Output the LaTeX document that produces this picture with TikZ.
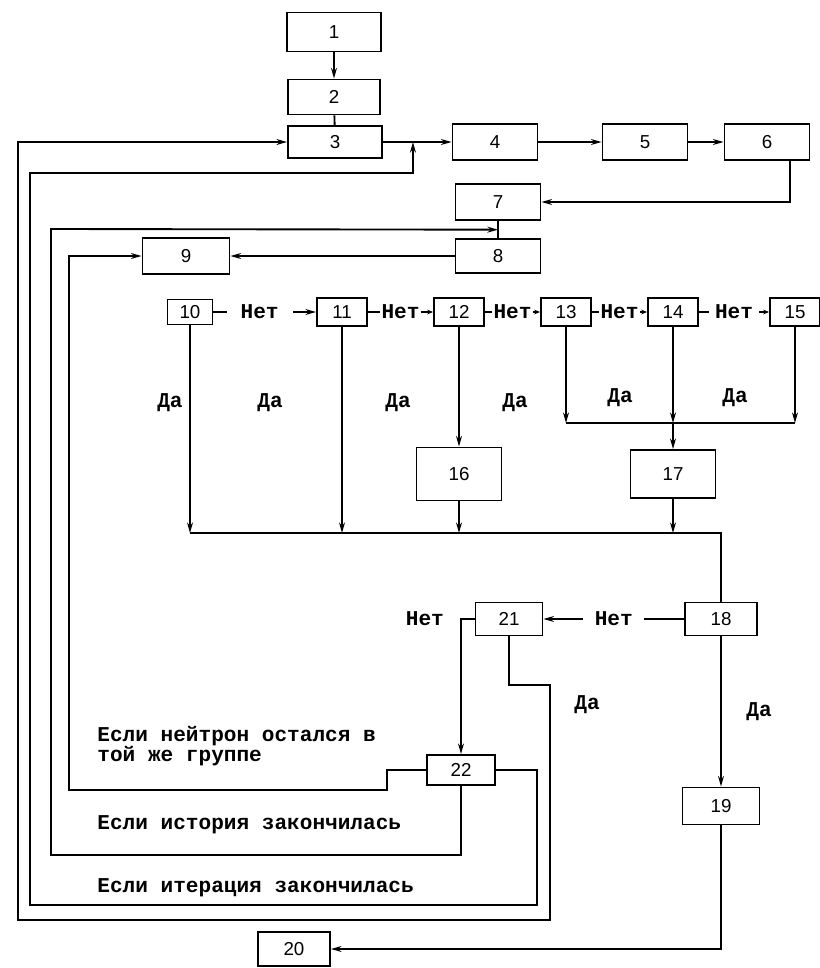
\documentclass[tikz,border=0pt]{standalone}
\usepackage{fontspec}
\newfontfamily\twfont{Liberation Mono}
\newfontfamily\numfont{Liberation Sans}
\usetikzlibrary{arrows.meta,positioning}

\begin{document}
\begin{tikzpicture}[
  x=0.03cm, y=-0.03cm,
  blk/.style={rectangle, draw, line width=1.6pt, minimum width=2.55cm, minimum height=1.1cm, inner sep=0pt, font=\numfont\fontsize{16}{16}\selectfont},
  test/.style={blk, minimum width=1.5cm, minimum height=0.84cm},
  lbl/.style={font=\twfont\bfseries\fontsize{18}{15.5}\selectfont, inner sep=1pt, align=left},
  wire/.style={line width=1.6pt},
  flow/.style={wire, -{Stealth[length=9pt,width=5pt]}},
  tick/.style={wire, -{Stealth[length=5pt,width=4pt]}}
]
\useasboundingbox (0,0) rectangle (820,968);

% Start chain
\node[blk, minimum width=2.82cm, minimum height=1.17cm] (b1) at (334,32) {1};
\node[blk, minimum width=2.76cm, minimum height=1.05cm] (b2) at (334,97) {2};
\node[blk, minimum width=2.82cm, minimum height=0.96cm] (b3) at (335,142) {3};
\node[blk] (b4) at (495,142) {4};
\node[blk] (b5) at (645,142) {5};
\node[blk] (b6) at (767,142) {6};
\node[blk] (b7) at (498,202) {7};
\node[blk, minimum height=1.02cm] (b8) at (498,256) {8};
\node[blk, minimum width=2.61cm] (b9) at (186,256) {9};

% Tests 10-15
\node[test, minimum width=1.35cm, minimum height=0.75cm] (b10) at (190,312) {10};
\node[test] (b11) at (342,312) {11};
\node[test] (b12) at (459,312) {12};
\node[test] (b13) at (566,312) {13};
\node[test] (b14) at (673,312) {14};
\node[test] (b15) at (795,312) {15};

\node[blk, minimum height=1.59cm] (b16) at (459,474) {16};
\node[blk, minimum height=1.44cm] (b17) at (673,474) {17};

% Lower part
\node[blk, minimum width=2.16cm, minimum height=0.99cm] (b18) at (721,619) {18};
\node[blk, minimum width=2.01cm, minimum height=0.99cm] (b21) at (509,619) {21};
\node[blk, minimum width=2.04cm, minimum height=0.9cm] (b22) at (461,770) {22};
\node[blk, minimum width=2.31cm, minimum height=1.11cm] (b19) at (721,806) {19};
\node[blk, minimum width=2.16cm, minimum height=1.02cm] (b20) at (294,949) {20};

% Junction points
\path (b3.east) ++(30,0) coordinate (j34);
\path (b7.south) -- coordinate (j78) (b8.north);
\coordinate (bus) at (190,533);
\coordinate (m17) at (673,423);

% Main flow
\draw[flow] (b1) -- (b2);
\draw[wire] (b2) -- (b3);
\draw[flow] (b3) -- (b4);
\draw[flow] (b4) -- (b5);
\draw[flow] (b5) -- (b6);
\draw[flow] (b6.320) |- (b7.east);
\draw[wire] (b7) -- (b8);
\draw[flow] (b8) -- (b9);

% Chain of tests
\draw[flow] (b10) -- node[lbl, fill=white, pos=0.45, inner xsep=12pt]{Нет} (b11);
\draw[tick] (b11) -- node[lbl, fill=white]{Нет} (b12);
\draw[tick] (b12) -- node[lbl, fill=white]{Нет} (b13);
\draw[tick] (b13) -- node[lbl, fill=white]{Нет} (b14);
\draw[tick] (b14) -- node[lbl, fill=white, inner xsep=5pt]{Нет} (b15);

\node[lbl] (da10) at (170,403) {Да};
\node[lbl] (da11) at (270,403) {Да};
\node[lbl] (da12) at (398,403) {Да};
\node[lbl] (da13) at (515,403) {Да};
\node[lbl] (da14) at (620,398) {Да};
\node[lbl] (da15) at (735,398) {Да};

% Yes branches to the common line
\draw[flow] (b10) -- (b10 |- bus);
\draw[flow] (b11) -- (b11 |- bus);
\draw[flow] (b12) -- (b16);
\draw[flow] (b16) -- (b16 |- bus);
\draw[flow] (b13) -- (b13 |- m17);
\draw[flow] (b14) -- (m17);
\draw[flow] (b15) -- (b15 |- m17);
\draw[wire] (b13 |- m17) -- (b15 |- m17);
\draw[flow] (m17) -- (b17);
\draw[flow] (b17) -- (b17 |- bus);
\draw[wire] (bus) -| (b18);

% 18, 21, 19, 20
\draw[flow] (b18) -- node[lbl, fill=white, inner xsep=10pt]{Нет} (b21);
\draw[flow] (b18) -- node[lbl, right=0.7cm]{Да} (b19);
\draw[flow] (b19) |- (b20);
\draw[flow] (b21.west) -| node[lbl, pos=0.5, left=0.45cm]{Нет} (b22);
\node[lbl] (da21) at (587,705) {Да};

% Returns
\draw[flow] (b21.south) |- (550,685) -- (550,920) -- (18,920) |- (b3.west);
\draw[flow] (b22.east) -| (537,905) -- (30,905) -- (30,173) -| (j34);
\draw[flow] (b22.south) |- (51,855) -- (51,229) -- (j78);
\draw[flow] (b22.west) -| (387,790) -- (69,790) |- (b9.west);

\node[lbl, anchor=west] (txt1) at (96,746) {Если нейтрон остался в\\той же группе};
\node[lbl, anchor=west] (txt2) at (96,825) {Если история закончилась};
\node[lbl, anchor=west] (txt3) at (96,888) {Если итерация закончилась};

\end{tikzpicture}
\end{document}
